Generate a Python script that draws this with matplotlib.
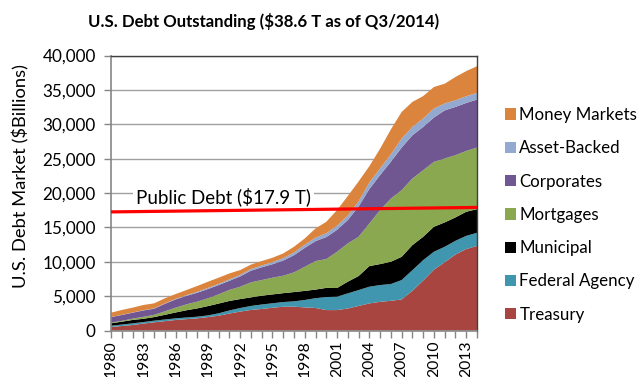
import matplotlib
matplotlib.use("Agg")
import matplotlib.pyplot as plt
from matplotlib.patches import Patch
from matplotlib.ticker import FuncFormatter

# US bond market debt outstanding by sector, $ billions
years = list(range(1980, 2015))
treasury = [510, 650, 800, 1000, 1190, 1360, 1530, 1650, 1770, 1950, 2150, 2470,
            2750, 2990, 3130, 3310, 3460, 3460, 3360, 3280, 2970, 2970, 3200, 3570,
            3940, 4170, 4320, 4520, 5780, 7260, 8850, 9930, 11050, 11850, 12300]
federal_agency = [190, 220, 240, 230, 240, 240, 240, 240, 240, 250, 350, 450,
                  520, 580, 650, 650, 680, 780, 1080, 1420, 1900, 1950, 2200, 2310,
                  2430, 2440, 2440, 2820, 3000, 2980, 2610, 2250, 2000, 1920, 1910]
municipal = [340, 410, 490, 470, 520, 680, 850, 1050, 1200, 1350, 1420, 1380,
             1300, 1250, 1280, 1290, 1290, 1350, 1320, 1250, 1330, 1260, 1700, 2040,
             3000, 3050, 3240, 3380, 3640, 3390, 3630, 3540, 3400, 3500, 3440]
mortgages = [110, 120, 190, 290, 320, 500, 700, 860, 980, 1130, 1340, 1600,
             1800, 2180, 2280, 2430, 2540, 2860, 3510, 4150, 4190, 5270, 5570, 5710,
             6200, 7850, 9200, 9690, 9690, 9690, 9440, 9300, 9050, 8850, 8960]
corporates = [800, 850, 870, 920, 900, 1100, 1200, 1230, 1300, 1350, 1350, 1330,
              1500, 1700, 1850, 1960, 2200, 2500, 2750, 2900, 3200, 3200, 3400, 4400,
              5000, 5100, 5350, 6200, 6290, 6290, 6450, 7000, 7020, 6980, 6980]
asset_backed = [20, 20, 30, 40, 50, 60, 80, 100, 130, 160, 180, 200,
                220, 240, 260, 300, 350, 400, 450, 500, 550, 600, 650, 750,
                960, 980, 1070, 1310, 1210, 1220, 1310, 1000, 970, 970, 960]
money_markets = [620, 710, 700, 760, 730, 740, 700, 750, 850, 900, 890, 870,
                 700, 650, 650, 640, 690, 830, 920, 1340, 1670, 2260, 2850, 2900,
                 2370, 2860, 3630, 3870, 3640, 3270, 3130, 2880, 3390, 3660, 3900]

series_names = ["Treasury", "Federal Agency", "Municipal", "Mortgages",
                "Corporates", "Asset-Backed", "Money Markets"]
series_colors = ["#A94541", "#4096AE", "#000000", "#8AA84F",
                 "#715791", "#93A9CF", "#DB843D"]

# Public debt reference line (start/end, $ billions)
public_debt_years = [1980, 2014]
public_debt = [17250, 17900]

title_text = "U.S. Debt Outstanding ($38.6 T as of Q3/2014)"
ylabel_text = "U.S. Debt Market ($Billions)"
line_label = "Public Debt ($17.9 T)"

FONT = ["Lato", "DejaVu Sans"]
plt.rcParams["font.family"] = FONT

fig = plt.figure(figsize=(6.42, 3.77), dpi=100)
ax = fig.add_axes([111 / 642, 1 - 330.5 / 377, 366 / 642, 275 / 377])

ax.stackplot(years, treasury, federal_agency, municipal, mortgages,
             corporates, asset_backed, money_markets,
             colors=series_colors, linewidth=0, zorder=2)

ax.plot(public_debt_years, public_debt, color="#FF0000", linewidth=2.3,
        solid_capstyle="butt", zorder=4, clip_on=False)

ax.set_xlim(1980, 2014)
ax.set_ylim(0, 40000)
ax.set_yticks(range(0, 40001, 5000))
ax.yaxis.set_major_formatter(FuncFormatter(lambda v, p: f"{int(v):,}"))
ax.set_xticks(years)
ax.set_xticklabels([str(y) if (y - 1980) % 3 == 0 else "" for y in years],
                   rotation=90, fontsize=11.3)
ax.tick_params(axis="y", labelsize=12.3, length=5, width=1, color="#868686",
               direction="out", pad=6)
ax.tick_params(axis="x", length=5, width=1, color="#868686",
               direction="out", pad=2)

ax.grid(axis="y", color="#A0A0A0", linewidth=1, zorder=1)
ax.set_axisbelow(True)
for side in ["left", "bottom"]:
    ax.spines[side].set_color("#868686")
    ax.spines[side].set_linewidth(1.2)
for side in ["top", "right"]:
    ax.spines[side].set_color("#404040")
    ax.spines[side].set_linewidth(1)

ax.set_ylabel(ylabel_text, fontsize=13.2)
ax.yaxis.set_label_coords(-0.222, 0.56)

ax.text(1982.3, 19500, line_label, fontsize=13.5, va="center", ha="left",
        zorder=3, bbox=dict(facecolor="white", edgecolor="none", pad=2))

fig.text(264 / 642, 1 - 21 / 377, title_text, ha="center", va="center",
         fontsize=12.1, fontweight="bold")

handles = [Patch(facecolor=c, edgecolor="none") for c in series_colors][::-1]
labels = series_names[::-1]
fig.legend(handles, labels, loc="upper left", bbox_to_anchor=(505 / 642, 1 - 107 / 377),
           frameon=False, fontsize=12.2, handlelength=0.65, handleheight=0.65,
           handletextpad=0.2, labelspacing=1.02, borderaxespad=0, borderpad=0)

fig.savefig("out.png", dpi=100)
